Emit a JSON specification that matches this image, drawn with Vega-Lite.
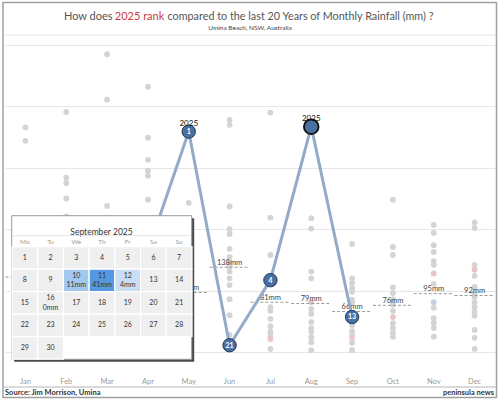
{
  "$schema": "https://vega.github.io/schema/vega-lite/v6.json",
  "width": 490,
  "height": 326,
  "autosize": {"type": "none"},
  "padding": {"left": 5, "top": 36, "right": 5, "bottom": 37},
  "background": "white",
  "config": {"view": {"stroke": null}, "font": "Lato", "text": {"font": "Lato"}, "axis": {"labelFont": "Lato"}},
  "datasets": {
    "dots": [
      {"month": "Jan", "mm": 366, "kind": "hist"}, {"month": "Jan", "mm": 344, "kind": "hist"},
      {"month": "Feb", "mm": 391, "kind": "hist"}, {"month": "Feb", "mm": 284, "kind": "hist"}, {"month": "Feb", "mm": 275, "kind": "hist"}, {"month": "Feb", "mm": 250, "kind": "hist"}, {"month": "Feb", "mm": 221, "kind": "hist"},
      {"month": "Mar", "mm": 485, "kind": "hist"}, {"month": "Mar", "mm": 411, "kind": "hist"}, {"month": "Mar", "mm": 238, "kind": "hist"},
      {"month": "Apr", "mm": 432, "kind": "hist"}, {"month": "Apr", "mm": 349, "kind": "hist"}, {"month": "Apr", "mm": 313, "kind": "hist"}, {"month": "Apr", "mm": 295, "kind": "hist"}, {"month": "Apr", "mm": 287, "kind": "hist"}, {"month": "Apr", "mm": 248, "kind": "hist"},
      {"month": "May", "mm": 243, "kind": "hist"},
      {"month": "Jun", "mm": 378, "kind": "hist"}, {"month": "Jun", "mm": 370, "kind": "hist"}, {"month": "Jun", "mm": 237, "kind": "hist"}, {"month": "Jun", "mm": 200, "kind": "hist"}, {"month": "Jun", "mm": 192, "kind": "hist"}, {"month": "Jun", "mm": 168, "kind": "hist"}, {"month": "Jun", "mm": 155, "kind": "hist"}, {"month": "Jun", "mm": 147, "kind": "hist"}, {"month": "Jun", "mm": 139, "kind": "hist"}, {"month": "Jun", "mm": 131, "kind": "hist"}, {"month": "Jun", "mm": 120, "kind": "hist"}, {"month": "Jun", "mm": 109, "kind": "hist"}, {"month": "Jun", "mm": 86, "kind": "hist"}, {"month": "Jun", "mm": 60, "kind": "hist"}, {"month": "Jun", "mm": 28, "kind": "hist"},
      {"month": "Jul", "mm": 390, "kind": "hist"}, {"month": "Jul", "mm": 219, "kind": "hist"}, {"month": "Jul", "mm": 158, "kind": "hist"}, {"month": "Jul", "mm": 73, "kind": "hist"}, {"month": "Jul", "mm": 67, "kind": "hist"}, {"month": "Jul", "mm": 54, "kind": "hist"}, {"month": "Jul", "mm": 42, "kind": "hist"}, {"month": "Jul", "mm": 33, "kind": "hist"}, {"month": "Jul", "mm": 26, "kind": "hist"}, {"month": "Jul", "mm": 21, "kind": "pink"}, {"month": "Jul", "mm": 5, "kind": "hist"},
      {"month": "Aug", "mm": 218, "kind": "hist"}, {"month": "Aug", "mm": 201, "kind": "hist"}, {"month": "Aug", "mm": 131, "kind": "hist"}, {"month": "Aug", "mm": 120, "kind": "hist"}, {"month": "Aug", "mm": 81, "kind": "pink"}, {"month": "Aug", "mm": 70, "kind": "hist"}, {"month": "Aug", "mm": 62, "kind": "hist"}, {"month": "Aug", "mm": 49, "kind": "hist"}, {"month": "Aug", "mm": 39, "kind": "hist"}, {"month": "Aug", "mm": 33, "kind": "hist"}, {"month": "Aug", "mm": 24, "kind": "hist"}, {"month": "Aug", "mm": 16, "kind": "hist"}, {"month": "Aug", "mm": 3, "kind": "hist"},
      {"month": "Sep", "mm": 176, "kind": "hist"}, {"month": "Sep", "mm": 120, "kind": "hist"}, {"month": "Sep", "mm": 112, "kind": "hist"}, {"month": "Sep", "mm": 104, "kind": "hist"}, {"month": "Sep", "mm": 98, "kind": "hist"}, {"month": "Sep", "mm": 85, "kind": "blue"}, {"month": "Sep", "mm": 81, "kind": "hist"}, {"month": "Sep", "mm": 44, "kind": "hist"}, {"month": "Sep", "mm": 34, "kind": "hist"}, {"month": "Sep", "mm": 29, "kind": "hist"}, {"month": "Sep", "mm": 23, "kind": "pink"}, {"month": "Sep", "mm": 15, "kind": "hist"}, {"month": "Sep", "mm": 3, "kind": "hist"},
      {"month": "Oct", "mm": 248, "kind": "hist"}, {"month": "Oct", "mm": 171, "kind": "hist"}, {"month": "Oct", "mm": 158, "kind": "hist"}, {"month": "Oct", "mm": 105, "kind": "hist"}, {"month": "Oct", "mm": 96, "kind": "hist"}, {"month": "Oct", "mm": 86, "kind": "hist"}, {"month": "Oct", "mm": 77, "kind": "hist"}, {"month": "Oct", "mm": 67, "kind": "hist"}, {"month": "Oct", "mm": 57, "kind": "pink"}, {"month": "Oct", "mm": 47, "kind": "hist"}, {"month": "Oct", "mm": 39, "kind": "hist"}, {"month": "Oct", "mm": 31, "kind": "hist"}, {"month": "Oct", "mm": 25, "kind": "hist"},
      {"month": "Nov", "mm": 207, "kind": "hist"}, {"month": "Nov", "mm": 194, "kind": "hist"}, {"month": "Nov", "mm": 174, "kind": "hist"}, {"month": "Nov", "mm": 163, "kind": "hist"}, {"month": "Nov", "mm": 148, "kind": "hist"}, {"month": "Nov", "mm": 142, "kind": "hist"}, {"month": "Nov", "mm": 128, "kind": "pink"}, {"month": "Nov", "mm": 111, "kind": "hist"}, {"month": "Nov", "mm": 81, "kind": "blue"}, {"month": "Nov", "mm": 72, "kind": "hist"}, {"month": "Nov", "mm": 55, "kind": "hist"}, {"month": "Nov", "mm": 47, "kind": "hist"}, {"month": "Nov", "mm": 39, "kind": "hist"}, {"month": "Nov", "mm": 25, "kind": "hist"},
      {"month": "Dec", "mm": 211, "kind": "hist"}, {"month": "Dec", "mm": 202, "kind": "hist"}, {"month": "Dec", "mm": 142, "kind": "hist"}, {"month": "Dec", "mm": 134, "kind": "pink"}, {"month": "Dec", "mm": 124, "kind": "hist"}, {"month": "Dec", "mm": 106, "kind": "hist"}, {"month": "Dec", "mm": 96, "kind": "hist"}, {"month": "Dec", "mm": 90, "kind": "hist"}, {"month": "Dec", "mm": 81, "kind": "hist"}, {"month": "Dec", "mm": 73, "kind": "hist"}, {"month": "Dec", "mm": 65, "kind": "hist"}, {"month": "Dec", "mm": 59, "kind": "hist"}, {"month": "Dec", "mm": 36, "kind": "hist"}, {"month": "Dec", "mm": 23, "kind": "hist"}, {"month": "Dec", "mm": 5, "kind": "hist"}
    ],
    "medians": [
      {"month": "Jan", "median": 122, "label": "122mm"},
      {"month": "May", "median": 97, "label": "97mm"},
      {"month": "Jun", "median": 138, "label": "138mm"},
      {"month": "Jul", "median": 81, "label": "81mm"},
      {"month": "Aug", "median": 79, "label": "79mm"},
      {"month": "Sep", "median": 66, "label": "66mm"},
      {"month": "Oct", "median": 76, "label": "76mm"},
      {"month": "Nov", "median": 95, "label": "95mm"},
      {"month": "Dec", "median": 92, "label": "92mm"}
    ],
    "y2025": [
      {"month": "Apr", "mm": 165, "rank": "", "year": ""},
      {"month": "May", "mm": 359, "rank": "1", "year": "2025"},
      {"month": "Jun", "mm": 11, "rank": "21", "year": ""},
      {"month": "Jul", "mm": 117, "rank": "4", "year": ""},
      {"month": "Aug", "mm": 367, "rank": "", "year": "2025"},
      {"month": "Sep", "mm": 57, "rank": "13", "year": ""}
    ],
    "weekdays": [
      {"wd": "Mo"}, {"wd": "Tu"}, {"wd": "We"}, {"wd": "Th"}, {"wd": "Fr"}, {"wd": "Sa"}, {"wd": "Su"}
    ],
    "cal": [
      {"day": 1, "wd": "Mo", "week": 1}, {"day": 2, "wd": "Tu", "week": 1}, {"day": 3, "wd": "We", "week": 1}, {"day": 4, "wd": "Th", "week": 1}, {"day": 5, "wd": "Fr", "week": 1}, {"day": 6, "wd": "Sa", "week": 1}, {"day": 7, "wd": "Su", "week": 1},
      {"day": 8, "wd": "Mo", "week": 2}, {"day": 9, "wd": "Tu", "week": 2}, {"day": 10, "wd": "We", "week": 2, "mm": 11, "rain": "11mm"}, {"day": 11, "wd": "Th", "week": 2, "mm": 41, "rain": "41mm"}, {"day": 12, "wd": "Fr", "week": 2, "mm": 4, "rain": "4mm"}, {"day": 13, "wd": "Sa", "week": 2}, {"day": 14, "wd": "Su", "week": 2},
      {"day": 15, "wd": "Mo", "week": 3}, {"day": 16, "wd": "Tu", "week": 3, "mm": 0, "rain": "0mm"}, {"day": 17, "wd": "We", "week": 3}, {"day": 18, "wd": "Th", "week": 3}, {"day": 19, "wd": "Fr", "week": 3}, {"day": 20, "wd": "Sa", "week": 3}, {"day": 21, "wd": "Su", "week": 3},
      {"day": 22, "wd": "Mo", "week": 4}, {"day": 23, "wd": "Tu", "week": 4}, {"day": 24, "wd": "We", "week": 4}, {"day": 25, "wd": "Th", "week": 4}, {"day": 26, "wd": "Fr", "week": 4}, {"day": 27, "wd": "Sa", "week": 4}, {"day": 28, "wd": "Su", "week": 4},
      {"day": 29, "wd": "Mo", "week": 5}, {"day": 30, "wd": "Tu", "week": 5}
    ]
  },
  "layer": [
    {
      "layer": [
        {
          "data": {"name": "dots"},
          "mark": {"type": "circle", "size": 34, "opacity": 1},
          "encoding": {
            "x": {"field": "month", "type": "ordinal", "sort": ["Jan","Feb","Mar","Apr","May","Jun","Jul","Aug","Sep","Oct","Nov","Dec"],
                  "scale": {"domain": ["Jan","Feb","Mar","Apr","May","Jun","Jul","Aug","Sep","Oct","Nov","Dec"], "paddingInner": 0, "paddingOuter": 0},
                  "axis": {"title": null, "domain": false, "ticks": false, "labelColor": "#9a9a9a", "labelFontSize": 7.5, "labelPadding": 15, "labelAngle": 0}},
            "y": {"field": "mm", "type": "quantitative", "scale": {"domain": [-16.3, 514.7], "nice": false, "zero": false},
                  "axis": {"title": null, "labels": false, "ticks": false, "domain": false, "values": [0,50,100,150,200,250,300,350,400,450,500], "gridColor": "#e6e6e6", "gridWidth": 1}},
            "color": {"field": "kind", "type": "nominal", "scale": {"domain": ["hist","pink","blue"], "range": ["#d4d4d4","#e8c6c6","#c6d2e4"]}, "legend": null}
          }
        },
        {
          "data": {"name": "medians"},
          "mark": {"type": "rule", "color": "#9a9a9a", "strokeDash": [3, 2], "strokeWidth": 1, "xOffset": -20, "x2Offset": 20},
          "encoding": {
            "x": {"field": "month", "type": "ordinal"},
            "x2": {"field": "month"},
            "y": {"field": "median", "type": "quantitative"}
          }
        },
        {
          "data": {"name": "medians"},
          "mark": {"type": "text", "fontSize": 7.5, "color": "#444", "dy": -2.5, "baseline": "alphabetic"},
          "encoding": {
            "x": {"field": "month", "type": "ordinal"},
            "y": {"field": "median", "type": "quantitative"},
            "text": {"field": "label"}
          }
        },
        {
          "data": {"name": "y2025"},
          "mark": {"type": "line", "color": "#93aac9", "strokeWidth": 3},
          "encoding": {
            "x": {"field": "month", "type": "ordinal"},
            "y": {"field": "mm", "type": "quantitative"}
          }
        },
        {
          "data": {"name": "y2025"},
          "mark": {"type": "circle", "opacity": 1, "fill": "#4a70a2"},
          "encoding": {
            "x": {"field": "month", "type": "ordinal"},
            "y": {"field": "mm", "type": "quantitative"},
            "size": {"condition": {"test": "datum.month === 'Aug'", "value": 215}, "value": 180},
            "stroke": {"condition": {"test": "datum.month === 'Aug'", "value": "#111111"}, "value": "#1f3a5c"},
            "strokeWidth": {"condition": {"test": "datum.month === 'Aug'", "value": 1.8}, "value": 1}
          }
        },
        {
          "data": {"name": "y2025"},
          "mark": {"type": "text", "fontSize": 7, "fontWeight": "bold", "color": "white", "baseline": "middle", "dy": 0.5},
          "encoding": {
            "x": {"field": "month", "type": "ordinal"},
            "y": {"field": "mm", "type": "quantitative"},
            "text": {"field": "rank"}
          }
        },
        {
          "data": {"name": "y2025"},
          "mark": {"type": "text", "fontSize": 8, "color": "#111", "baseline": "alphabetic", "dy": -6},
          "encoding": {
            "x": {"field": "month", "type": "ordinal"},
            "y": {"field": "mm", "type": "quantitative"},
            "text": {"field": "year"}
          }
        },
        {
          "data": {"values": [{}]},
          "layer": [
            {"mark": {"type": "rect", "fillOpacity": 0, "stroke": "#a0a0a0", "strokeWidth": 1.5},
             "encoding": {"x": {"value": -2}, "x2": {"value": 491.5}, "y": {"value": -33.5}, "y2": {"value": 361.5}}},
            {"mark": {"type": "rule", "color": "#e2e2e2", "strokeWidth": 1},
             "encoding": {"x": {"value": -2}, "x2": {"value": 491.5}, "y": {"value": -1}}},
            {"mark": {"type": "rule", "color": "#b5b5b5", "strokeWidth": 1},
             "encoding": {"x": {"value": -2}, "x2": {"value": 491.5}, "y": {"value": 351}}},
            {"mark": {"type": "text", "text": "How does", "align": "right", "baseline": "alphabetic", "fontSize": 11, "color": "#555"},
             "encoding": {"x": {"value": 107.5}, "y": {"value": -16.5}}},
            {"mark": {"type": "text", "text": "2025 rank", "align": "left", "baseline": "alphabetic", "fontSize": 11, "color": "#cc3a40"},
             "encoding": {"x": {"value": 109.8}, "y": {"value": -16.5}}},
            {"mark": {"type": "text", "text": "compared to the last 20 Years of Monthly Rainfall (mm) ?", "align": "left", "baseline": "alphabetic", "fontSize": 10.8, "color": "#555"},
             "encoding": {"x": {"value": 162.5}, "y": {"value": -16.5}}},
            {"mark": {"type": "text", "text": "Umina Beach, NSW, Australia", "align": "center", "baseline": "alphabetic", "fontSize": 6.5, "color": "#444"},
             "encoding": {"x": {"value": 245}, "y": {"value": -6}}},
            {"mark": {"type": "text", "text": "Source: Jim Morrison, Umina", "align": "left", "baseline": "alphabetic", "fontSize": 7.5, "fontWeight": "bold", "color": "#333"},
             "encoding": {"x": {"value": 0}, "y": {"value": 359}}},
            {"mark": {"type": "text", "text": "peninsula news", "align": "right", "baseline": "alphabetic", "fontSize": 7.5, "fontWeight": "bold", "color": "#333"},
             "encoding": {"x": {"value": 489}, "y": {"value": 359}}}
          ]
        }
      ]
    },
    {
      "layer": [
        {
          "data": {"values": [{}]},
          "layer": [
            {"mark": {"type": "rect", "fill": "#4a4a4a"},
             "encoding": {"x": {"value": 9.2}, "x2": {"value": 189.2}, "y": {"value": 182.2}, "y2": {"value": 325.8}}},
            {"mark": {"type": "rect", "fill": "white", "stroke": "#9a9a9a", "strokeWidth": 1},
             "encoding": {"x": {"value": 6.7}, "x2": {"value": 186.7}, "y": {"value": 179.7}, "y2": {"value": 323.3}}},
            {"mark": {"type": "text", "text": "September 2025", "align": "center", "baseline": "middle", "fontSize": 8.5, "color": "#333"},
             "encoding": {"x": {"value": 96.5}, "y": {"value": 195.7}}},
            {"mark": {"type": "rule", "color": "#e4e4e4", "strokeWidth": 1},
             "encoding": {"x": {"value": 8}, "x2": {"value": 186}, "y": {"value": 199.7}}}
          ]
        },
        {
          "data": {"name": "weekdays"},
          "mark": {"type": "text", "fontSize": 6.5, "color": "#9a9a9a", "baseline": "middle"},
          "encoding": {
            "x": {"field": "wd", "type": "nominal", "sort": ["Mo","Tu","We","Th","Fr","Sa","Su"], "scale": {"domain": ["Mo","Tu","We","Th","Fr","Sa","Su"], "range": [7, 187], "paddingInner": 0, "paddingOuter": 0}, "axis": null},
            "y": {"value": 205.7},
            "text": {"field": "wd"}
          }
        },
        {
          "data": {"name": "cal"},
          "mark": {"type": "rect", "stroke": "white", "strokeWidth": 1.2},
          "encoding": {
            "x": {"field": "wd", "type": "nominal", "sort": ["Mo","Tu","We","Th","Fr","Sa","Su"], "scale": {"domain": ["Mo","Tu","We","Th","Fr","Sa","Su"], "range": [7, 187], "paddingInner": 0, "paddingOuter": 0}, "axis": null},
            "y": {"field": "week", "type": "ordinal", "scale": {"domain": [1,2,3,4,5], "range": [210.7, 323.2], "paddingInner": 0, "paddingOuter": 0}, "axis": null},
            "fill": {"condition": [
              {"test": "datum.mm >= 20", "value": "#5597e0"},
              {"test": "datum.mm >= 8", "value": "#a3c8f0"},
              {"test": "datum.mm >= 1", "value": "#c9ddf4"}
            ], "value": "#efefef"}
          }
        },
        {
          "data": {"name": "cal"},
          "transform": [{"filter": "datum.mm == null"}],
          "mark": {"type": "text", "fontSize": 7, "color": "#333", "baseline": "middle"},
          "encoding": {
            "x": {"field": "wd", "type": "nominal"},
            "y": {"field": "week", "type": "ordinal"},
            "text": {"field": "day"}
          }
        },
        {
          "data": {"name": "cal"},
          "transform": [{"filter": "datum.mm != null"}],
          "mark": {"type": "text", "fontSize": 7, "color": "#333", "baseline": "middle", "dy": -4.5},
          "encoding": {
            "x": {"field": "wd", "type": "nominal"},
            "y": {"field": "week", "type": "ordinal"},
            "text": {"field": "day"}
          }
        },
        {
          "data": {"name": "cal"},
          "transform": [{"filter": "datum.mm != null"}],
          "mark": {"type": "text", "fontSize": 7, "color": "#333", "baseline": "middle", "dy": 5},
          "encoding": {
            "x": {"field": "wd", "type": "nominal"},
            "y": {"field": "week", "type": "ordinal"},
            "text": {"field": "rain"}
          }
        }
      ]
    }
  ],
  "resolve": {"scale": {"x": "independent", "y": "independent"}, "axis": {"x": "independent", "y": "independent"}}
}
